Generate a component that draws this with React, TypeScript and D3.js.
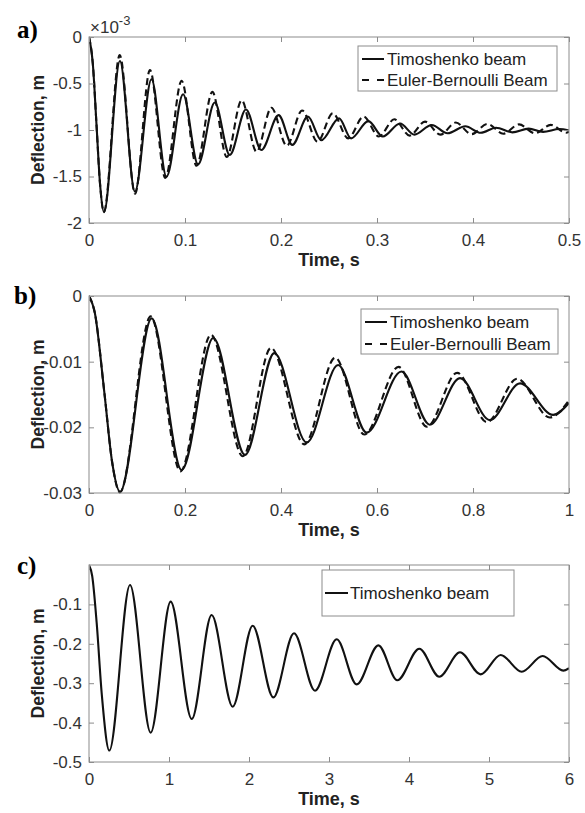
import { useEffect, useRef } from 'react';
import * as d3 from 'd3';

// a) deflection in units of 1e-3 m
const timeA_timo = [0, 0.004, 0.0078, 0.0115, 0.0156, 0.0322, 0.0478, 0.0651, 0.0807, 0.098, 0.1136, 0.131, 0.1466, 0.1635, 0.1795, 0.1975, 0.2118, 0.228, 0.242, 0.2605, 0.273, 0.291, 0.306, 0.324, 0.339, 0.357, 0.3735, 0.392, 0.408, 0.424, 0.441, 0.458, 0.473, 0.49, 0.5]
const defA_timo = [0, -0.29, -0.94, -1.58, -1.885, -0.258, -1.663, -0.455, -1.502, -0.616, -1.37, -0.705, -1.268, -0.78, -1.215, -0.84, -1.16, -0.855, -1.11, -0.875, -1.09, -0.905, -1.07, -0.93, -1.05, -0.946, -1.035, -0.96, -1.03, -0.975, -1.025, -0.985, -1.02, -0.99, -1.005]
const timeA_euler = [0, 0.004, 0.0078, 0.0115, 0.0155, 0.032, 0.048, 0.0635, 0.0795, 0.0965, 0.112, 0.1285, 0.1435, 0.159, 0.1745, 0.19, 0.206, 0.222, 0.238, 0.254, 0.27, 0.286, 0.302, 0.318, 0.334, 0.35, 0.366, 0.382, 0.3985, 0.415, 0.4315, 0.448, 0.4645, 0.481, 0.497, 0.5]
const defA_euler = [0, -0.29, -0.94, -1.58, -1.88, -0.195, -1.685, -0.355, -1.515, -0.47, -1.385, -0.59, -1.29, -0.68, -1.235, -0.76, -1.17, -0.79, -1.125, -0.82, -1.09, -0.855, -1.07, -0.885, -1.06, -0.91, -1.05, -0.92, -1.045, -0.935, -1.04, -0.94, -1.035, -0.945, -1.03, -1.02]
const xTicksA = [0, 0.1, 0.2, 0.3, 0.4, 0.5]
const yTicksA = [0, -0.5, -1, -1.5, -2]

// b) deflection in m
const timeB_timo = [0, 0.012, 0.032, 0.048, 0.0646, 0.1306, 0.193, 0.259, 0.325, 0.386, 0.4535, 0.519, 0.5785, 0.651, 0.71, 0.773, 0.835, 0.898, 0.967, 1.0]
const defB_timo = [0, -0.0025, -0.0147, -0.0252, -0.0298, -0.0034, -0.0265, -0.0064, -0.0242, -0.0087, -0.0223, -0.0105, -0.0208, -0.0115, -0.0196, -0.0125, -0.0189, -0.0133, -0.0181, -0.0163]
const timeB_euler = [0, 0.012, 0.032, 0.048, 0.0643, 0.1285, 0.1905, 0.254, 0.3205, 0.379, 0.4485, 0.513, 0.5735, 0.645, 0.704, 0.767, 0.829, 0.892, 0.96, 1.0]
const defB_euler = [0, -0.0025, -0.0147, -0.0252, -0.0299, -0.0031, -0.0267, -0.0059, -0.0244, -0.0079, -0.0226, -0.0094, -0.0211, -0.0108, -0.0199, -0.0117, -0.0192, -0.0126, -0.0185, -0.0159]
const xTicksB = [0, 0.2, 0.4, 0.6, 0.8, 1]
const yTicksB = [0, -0.01, -0.02, -0.03]

// c) deflection in m
const timeC_timo = [0, 0.04, 0.096, 0.16, 0.254, 0.5125, 0.771, 1.021, 1.284, 1.533, 1.796, 2.046, 2.304, 2.5625, 2.825, 3.096, 3.346, 3.617, 3.854, 4.129, 4.379, 4.6375, 4.896, 5.146, 5.409, 5.671, 5.929, 6.0]
const defC_timo = [0, -0.028, -0.147, -0.329, -0.471, -0.0508, -0.4256, -0.093, -0.391, -0.127, -0.3596, -0.154, -0.336, -0.1734, -0.319, -0.1886, -0.303, -0.204, -0.2926, -0.2124, -0.2835, -0.2216, -0.2775, -0.2284, -0.2708, -0.231, -0.268, -0.262]
const xTicksC = [0, 1, 2, 3, 4, 5, 6]
const yTicksC = [-0.1, -0.2, -0.3, -0.4, -0.5]

const TIMO = 'Timoshenko beam'
const EULER = 'Euler-Bernoulli Beam'

const SANS = '"Liberation Sans", Arial, Helvetica, sans-serif'
const AXIS_GRAY = '#8c8c8c'
const TEXT_GRAY = '#333'

function App() {
  const ref = useRef<SVGSVGElement>(null)

  useEffect(() => {
    drawAll()
    // eslint-disable-next-line
  }, [])

  function drawPanel(svg: any, p: any) {
    const x = d3.scaleLinear().domain(p.xDomain).range([p.left, p.right])
    const y = d3.scaleLinear().domain(p.yDomain).range([p.bottom, p.top])
    const g = svg.append('g')

    const clipId = 'clip-' + p.id
    g.append('clipPath').attr('id', clipId)
      .append('rect')
      .attr('x', p.left).attr('y', p.top - 3)
      .attr('width', p.right - p.left).attr('height', p.bottom - p.top + 6)

    p.series.forEach((s: any) => {
      const idx = d3.range(s.t.length)
      const line = d3.line<number>()
        .x(i => x(s.t[i]))
        .y(i => y(s.v[i]))
        .curve(d3.curveMonotoneX)
      g.append('path')
        .datum(idx)
        .attr('d', line)
        .attr('clip-path', `url(#${clipId})`)
        .style('fill', 'none')
        .style('stroke', '#111')
        .style('stroke-width', 2.1)
        .style('stroke-dasharray', s.dashed ? '7,4' : null)
    })

    // box
    g.append('rect')
      .attr('x', p.left).attr('y', p.top)
      .attr('width', p.right - p.left).attr('height', p.bottom - p.top)
      .style('fill', 'none').style('stroke', AXIS_GRAY).style('stroke-width', 1)

    const styleAxis = (sel: any) => {
      sel.select('.domain').remove()
      sel.selectAll('.tick line').attr('stroke', AXIS_GRAY)
      sel.selectAll('.tick text').attr('fill', TEXT_GRAY)
      sel.attr('font-family', SANS).attr('font-size', 17)
    }

    g.append('g').attr('transform', `translate(0,${p.bottom})`)
      .call(d3.axisBottom(x).tickValues(p.xTicks).tickSize(-5).tickPadding(11).tickFormat((d: any) => String(d)))
      .call(styleAxis)
    g.append('g').attr('transform', `translate(0,${p.top})`)
      .call(d3.axisTop(x).tickValues(p.xTicks).tickSize(-5).tickFormat(() => ''))
      .call(styleAxis)
    g.append('g').attr('transform', `translate(${p.left},0)`)
      .call(d3.axisLeft(y).tickValues(p.yTicks).tickSize(-5).tickPadding(7).tickFormat((d: any) => String(d)))
      .call(styleAxis)
    g.append('g').attr('transform', `translate(${p.right},0)`)
      .call(d3.axisRight(y).tickValues(p.yTicks).tickSize(-5).tickFormat(() => ''))
      .call(styleAxis)

    // axis titles
    g.append('text')
      .attr('x', (p.left + p.right) / 2).attr('y', p.bottom + 43)
      .attr('text-anchor', 'middle')
      .style('font-family', SANS).style('font-size', '18px').style('font-weight', 'bold')
      .style('fill', '#222')
      .text('Time, s')
    g.append('text')
      .attr('transform', `translate(44,${(p.top + p.bottom) / 2}) rotate(-90)`)
      .attr('text-anchor', 'middle')
      .style('font-family', SANS).style('font-size', '17.5px').style('font-weight', 'bold')
      .style('fill', '#222')
      .text('Deflection, m')

    // panel tag
    g.append('text')
      .attr('x', p.tagX).attr('y', p.tagY)
      .style('font-family', '"Liberation Serif", "Times New Roman", serif')
      .style('font-size', '25px').style('font-weight', 'bold')
      .style('fill', '#000')
      .text(p.tag)

    if (p.exponent) {
      const t = g.append('text')
        .attr('x', p.left + 1).attr('y', p.top - 4)
        .style('font-family', SANS).style('font-size', '17px').style('fill', TEXT_GRAY)
      t.append('tspan').text('\u00d710')
      t.append('tspan').attr('dy', -8).style('font-size', '13px').text('-3')
    }

    // legend
    const lg = p.legend
    g.append('rect')
      .attr('x', lg.x0).attr('y', lg.y0)
      .attr('width', lg.x1 - lg.x0).attr('height', lg.y1 - lg.y0)
      .style('fill', '#fff').style('stroke', AXIS_GRAY).style('stroke-width', 1)
    lg.rows.forEach((r: any, i: number) => {
      const ry = lg.rowY[i]
      g.append('line')
        .attr('x1', lg.lineX0).attr('x2', lg.lineX1)
        .attr('y1', ry).attr('y2', ry)
        .style('stroke', '#111').style('stroke-width', 2)
        .style('stroke-dasharray', r.dashed ? '7,8' : null)
      g.append('text')
        .attr('x', lg.textX).attr('y', ry).attr('dy', '0.35em')
        .style('font-family', SANS).style('font-size', '17px').style('fill', '#222')
        .text(r.name)
    })
  }

  function drawAll() {
    const svg = d3.select(ref.current)
    svg.selectAll('*').remove()

    const panels = [
      {
        id: 'a', tag: 'a)', tagX: 17, tagY: 38, exponent: true,
        left: 89, right: 569, top: 37, bottom: 223,
        xDomain: [0, 0.5], yDomain: [-2, 0], xTicks: xTicksA, yTicks: yTicksA,
        series: [
          { t: timeA_timo, v: defA_timo, dashed: false },
          { t: timeA_euler, v: defA_euler, dashed: true },
        ],
        legend: {
          x0: 358, y0: 46, x1: 557, y1: 91, rowY: [59, 80], lineX0: 362, lineX1: 384, textX: 387,
          rows: [{ name: TIMO, dashed: false }, { name: EULER, dashed: true }],
        },
      },
      {
        id: 'b', tag: 'b)', tagX: 14, tagY: 304, exponent: false,
        left: 89, right: 569, top: 296, bottom: 493,
        xDomain: [0, 1], yDomain: [-0.03, 0], xTicks: xTicksB, yTicks: yTicksB,
        series: [
          { t: timeB_timo, v: defB_timo, dashed: false },
          { t: timeB_euler, v: defB_euler, dashed: true },
        ],
        legend: {
          x0: 361, y0: 309, x1: 558, y1: 354, rowY: [322, 344], lineX0: 365, lineX1: 387, textX: 390,
          rows: [{ name: TIMO, dashed: false }, { name: EULER, dashed: true }],
        },
      },
      {
        id: 'c', tag: 'c)', tagX: 17, tagY: 574, exponent: false,
        left: 89, right: 569, top: 565, bottom: 762,
        xDomain: [0, 6], yDomain: [-0.5, 0], xTicks: xTicksC, yTicks: yTicksC,
        series: [
          { t: timeC_timo, v: defC_timo, dashed: false },
        ],
        legend: {
          x0: 322, y0: 570, x1: 514, y1: 616, rowY: [593], lineX0: 325, lineX1: 348, textX: 350,
          rows: [{ name: TIMO, dashed: false }],
        },
      },
    ]

    panels.forEach(p => drawPanel(svg, p))
  }

  return (
    <svg
      ref={ref}
      width={585}
      height={813}
      style={{ position: 'absolute', left: 0, top: 0, background: '#fff' }}
    />
  )
}

export default App
